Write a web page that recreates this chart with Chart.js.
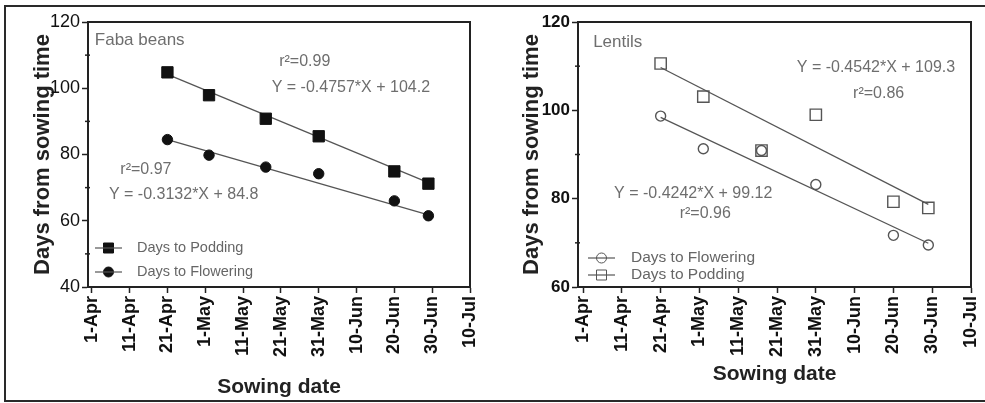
<!DOCTYPE html>
<html>
<head>
<meta charset="utf-8">
<script src="https://cdn.jsdelivr.net/npm/chart.js@4.4.1/dist/chart.umd.min.js"></script>
<style>
  html, body { margin: 0; padding: 0; background: #fff; overflow: hidden; }
  #wrap { position: relative; width: 985px; height: 403px; overflow: hidden; }
  #frame { position: absolute; left: 4px; top: 5px; width: 1000px; height: 397px; border: 2px solid #2a2a2a; box-sizing: border-box; }
  canvas { position: absolute; top: 0; }
</style>
</head>
<body>
<div id="wrap">
  <div id="frame"></div>
  <canvas id="faba" width="490" height="403" style="left:0"></canvas>
  <canvas id="lentil" width="495" height="403" style="left:490px"></canvas>
</div>
<script>
// x = days after 1-Apr
const dateTicks = ['1-Apr', '11-Apr', '21-Apr', '1-May', '11-May', '21-May', '31-May', '10-Jun', '20-Jun', '30-Jun', '10-Jul'];
const sowDays = [20, 31, 46, 60, 80, 89];

const fabaPodding = [104.8, 97.9, 90.8, 85.5, 74.9, 71.2];
const fabaFlowering = [84.5, 79.8, 76.2, 74.2, 66.0, 61.5];
const lentilPodding = [110.6, 103.1, 90.9, 99.0, 79.3, 77.9];
const lentilFlowering = [98.7, 91.3, 90.9, 83.2, 71.7, 69.5];

// fitted lines, ends
const fitDays = [20, 89];
const fabaPoddingFit = [104.2, 71.5];
const fabaFloweringFit = [84.5, 61.8];
const lentilPoddingFit = [109.7, 78.7];
const lentilFloweringFit = [98.4, 69.9];

const fabaTicks = [40, 60, 80, 100, 120];
const lentilTicks = [60, 80, 100, 120];

const FONT = '"Liberation Sans", Arial, sans-serif';
const pts = (xs, ys) => xs.map((x, i) => ({ x: x, y: ys[i] }));

const panelExtras = {
  id: 'panelExtras',
  afterDraw(chart, args, opts) {
    const { ctx, chartArea: a, scales: { x, y } } = chart;
    ctx.save();
    // top and right of the box
    ctx.strokeStyle = '#222';
    ctx.lineWidth = 2;
    ctx.beginPath();
    ctx.moveTo(a.left, a.top);
    ctx.lineTo(a.right, a.top);
    ctx.lineTo(a.right, a.bottom);
    ctx.stroke();
    // minor y ticks
    ctx.lineWidth = 1.5;
    opts.minor.forEach(v => {
      const py = y.getPixelForValue(v);
      ctx.beginPath();
      ctx.moveTo(a.left - 3, py);
      ctx.lineTo(a.left + 2, py);
      ctx.stroke();
    });
    // text notes
    ctx.fillStyle = '#6e6e6e';
    ctx.textBaseline = 'middle';
    opts.notes.forEach(n => {
      ctx.font = (n.size || '16px') + ' ' + FONT;
      ctx.textAlign = n.anchor || 'center';
      ctx.fillText(n.text, x.getPixelForValue(n.x), y.getPixelForValue(n.y));
    });
    // legend
    opts.legend.forEach(it => {
      const cy = a.bottom - it.dy;
      const x0 = a.left + it.dx;
      const mx = x0 + 13.5;
      const r = it.size / 2;
      const solid = it.solid === 'yes';
      ctx.beginPath();
      if (it.shape === 'rect') ctx.rect(mx - r, cy - r, it.size, it.size);
      else ctx.arc(mx, cy, r, 0, Math.PI * 2);
      ctx.fillStyle = solid ? '#111' : '#ffffff';
      ctx.fill();
      ctx.strokeStyle = solid ? '#111' : '#555';
      ctx.lineWidth = 1;
      ctx.stroke();
      ctx.strokeStyle = '#555';
      ctx.lineWidth = 1.2;
      ctx.beginPath();
      ctx.moveTo(x0, cy);
      ctx.lineTo(x0 + 27, cy);
      ctx.stroke();
      ctx.fillStyle = '#666';
      ctx.font = it.size2 + ' ' + FONT;
      ctx.textAlign = 'left';
      ctx.fillText(it.text, x0 + it.tx, cy);
    });
    ctx.restore();
  }
};

function makeScales(cfg) {
  return {
    x: {
      type: 'linear',
      min: cfg.xMin,
      max: 100,
      afterBuildTicks: s => { s.ticks = dateTicks.map((t, i) => ({ value: i * 10 })); },
      afterFit: s => { s.height = 116; s.paddingLeft = 0; s.paddingRight = 0; },
      grid: { display: true, drawOnChartArea: false, drawTicks: true, tickLength: 6, tickColor: '#222', tickWidth: 1.5 },
      border: { display: true, color: '#222', width: 2 },
      ticks: {
        autoSkip: false, minRotation: 90, maxRotation: 90, padding: 3, color: '#111',
        font: { family: FONT, size: 18, weight: 'bold' },
        callback: v => dateTicks[Math.round(v / 10)]
      },
      title: {
        display: true, text: 'Sowing date', color: '#222',
        font: { family: FONT, size: 21, weight: 'bold' },
        padding: { top: 0, bottom: cfg.xTitlePad }
      }
    },
    y: {
      min: cfg.yTicks[0],
      max: cfg.yTicks[cfg.yTicks.length - 1],
      afterBuildTicks: s => { s.ticks = cfg.yTicks.map(v => ({ value: v })); },
      afterFit: s => { s.width = 88; s.paddingTop = 0; s.paddingBottom = 0; },
      grid: { display: true, drawOnChartArea: false, drawTicks: true, tickLength: 6, tickColor: '#222', tickWidth: 1.5 },
      border: { display: true, color: '#222', width: 2 },
      ticks: { padding: 2, color: '#111', font: { family: FONT, size: cfg.yFontSize, weight: cfg.yWeight } },
      title: {
        display: true, text: 'Days from sowing time', color: '#222',
        font: { family: FONT, size: 22, weight: 'bold' },
        padding: { top: cfg.yTitlePad, bottom: 0 }
      }
    }
  };
}

const fitLine = (ys) => ({
  data: pts(fitDays, ys), showLine: true, pointRadius: 0,
  borderColor: '#555', borderWidth: 1.3, order: 3
});

new Chart(document.getElementById('faba'), {
  type: 'scatter',
  data: {
    datasets: [
      fitLine(fabaPoddingFit),
      fitLine(fabaFloweringFit),
      { label: 'Days to Podding', data: pts(sowDays, fabaPodding), pointStyle: 'rect', pointRadius: 8,
        backgroundColor: '#111', borderColor: '#111', borderWidth: 1, order: 1 },
      { label: 'Days to Flowering', data: pts(sowDays, fabaFlowering), pointStyle: 'circle', pointRadius: 5.2,
        backgroundColor: '#111', borderColor: '#111', borderWidth: 1, order: 1 }
    ]
  },
  options: {
    responsive: false,
    animation: false,
    layout: { padding: { left: 0, top: 22, right: 20, bottom: 0 } },
    scales: makeScales({ xMin: -1, yTicks: fabaTicks, yFontSize: 18, yWeight: 'normal', yTitlePad: 30, xTitlePad: 3 }),
    plugins: {
      legend: { display: false },
      tooltip: { enabled: false },
      panelExtras: {
        minor: [50, 70, 90, 110],
        notes: [
          { text: 'Faba beans', x: 0.8, y: 114.5, anchor: 'left', size: '17px' },
          { text: 'r\u00b2=0.99', x: 56.3, y: 107.9 },
          { text: 'Y = -0.4757*X + 104.2', x: 68.5, y: 100.3 },
          { text: 'r\u00b2=0.97', x: 14.3, y: 75.5 },
          { text: 'Y = -0.3132*X + 84.8', x: 24.3, y: 67.9 }
        ],
        legend: [
          { text: 'Days to Podding', shape: 'rect', size: 10, solid: 'yes', dx: 7, tx: 42, dy: 39, size2: '14.5px' },
          { text: 'Days to Flowering', shape: 'circle', size: 10, solid: 'yes', dx: 7, tx: 42, dy: 15, size2: '14.5px' }
        ]
      }
    }
  },
  plugins: [panelExtras]
});

new Chart(document.getElementById('lentil'), {
  type: 'scatter',
  data: {
    datasets: [
      fitLine(lentilPoddingFit),
      fitLine(lentilFloweringFit),
      { label: 'Days to Flowering', data: pts(sowDays, lentilFlowering), pointStyle: 'circle', pointRadius: 5,
        backgroundColor: 'rgba(0,0,0,0)', borderColor: '#555', borderWidth: 1.4, order: 1 },
      { label: 'Days to Podding', data: pts(sowDays, lentilPodding), pointStyle: 'rect', pointRadius: 8,
        backgroundColor: 'rgba(0,0,0,0)', borderColor: '#555', borderWidth: 1.4, order: 1 }
    ]
  },
  options: {
    responsive: false,
    animation: false,
    layout: { padding: { left: 0, top: 22, right: 14, bottom: 0 } },
    scales: makeScales({ xMin: -1.3, yTicks: lentilTicks, yFontSize: 17, yWeight: 'bold', yTitlePad: 29, xTitlePad: 16 }),
    plugins: {
      legend: { display: false },
      tooltip: { enabled: false },
      panelExtras: {
        minor: [70, 90, 110],
        notes: [
          { text: 'Lentils', x: 2.6, y: 115.5, anchor: 'left', size: '17px' },
          { text: 'Y = -0.4542*X + 109.3', x: 75.5, y: 109.7 },
          { text: 'r\u00b2=0.86', x: 76.2, y: 103.8 },
          { text: 'Y = -0.4242*X + 99.12', x: 28.4, y: 81.2 },
          { text: 'r\u00b2=0.96', x: 31.5, y: 76.7 }
        ],
        legend: [
          { text: 'Days to Flowering', shape: 'circle', size: 10, solid: 'no', dx: 10, tx: 43, dy: 29, size2: '15.5px' },
          { text: 'Days to Podding', shape: 'rect', size: 10, solid: 'no', dx: 10, tx: 43, dy: 12, size2: '15.5px' }
        ]
      }
    }
  },
  plugins: [panelExtras]
});
</script>
</body>
</html>
